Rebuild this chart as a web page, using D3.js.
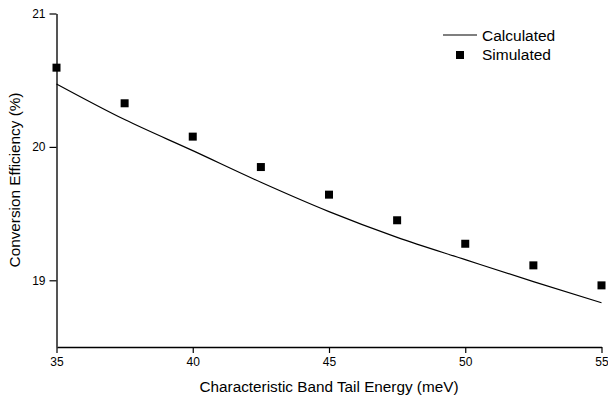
<!DOCTYPE html>
<html><head><meta charset="utf-8">
<script src="https://cdn.jsdelivr.net/npm/d3@7"></script>
<style>body{margin:0;background:#fff}svg{display:block;font-family:"Liberation Sans",Arial,sans-serif}</style>
</head><body>
<svg id="c" width="608" height="401"></svg>
<script>
const energies = [35, 37.5, 40, 42.5, 45, 47.5, 50, 52.5, 55];
const calculated = [20.472, 20.205, 19.972, 19.735, 19.515, 19.322, 19.155, 18.99, 18.832];
const simulated = [20.594, 20.327, 20.077, 19.849, 19.642, 19.450, 19.274, 19.112, 18.962];
const xTicks = [35, 40, 45, 50, 55];
const yTicks = [19, 20, 21];

const svg = d3.select("#c");
const x = d3.scaleLinear().domain([35, 55]).range([56.5, 601.5]);
const y = d3.scaleLinear().domain([18.5, 21]).range([347, 13.5]);

const xa = svg.append("g").attr("transform", "translate(0,347)")
  .call(d3.axisBottom(x).tickValues(xTicks).tickFormat(d3.format("d")).tickSize(6).tickPadding(4).tickSizeOuter(0));
const ya = svg.append("g").attr("transform", "translate(56.5,0)")
  .call(d3.axisLeft(y).tickValues(yTicks).tickFormat(d3.format("d")).tickSize(7).tickPadding(4).tickSizeOuter(0));
[xa, ya].forEach(g => {
  g.selectAll("text").attr("font-size", 12).attr("font-family", "Liberation Sans, Arial, sans-serif").attr("fill", "#000");
  g.selectAll("line").attr("stroke", "#000").attr("stroke-width", 1.2);
});
xa.select(".domain").attr("stroke", "#000").attr("stroke-width", 1.5);
ya.select(".domain").attr("stroke", "#555").attr("stroke-width", 2);

const line = d3.line().x((d, i) => x(energies[i])).y(d => y(d)).curve(d3.curveMonotoneX);
svg.append("path").datum(calculated).attr("d", line)
  .attr("fill", "none").attr("stroke", "#000").attr("stroke-width", 1.2);

const s = 8;
svg.append("g").selectAll("rect").data(simulated).join("rect")
  .attr("x", (d, i) => x(energies[i]) - s / 2).attr("y", d => y(d) - s / 2)
  .attr("width", s).attr("height", s).attr("fill", "#000");

// legend
const lg = svg.append("g");
lg.append("line").attr("x1", 443).attr("x2", 477).attr("y1", 35).attr("y2", 35).attr("stroke", "#000").attr("stroke-width", 1.2);
lg.append("text").attr("x", 482).attr("y", 40.5).attr("font-size", 15.5).text("Calculated");
lg.append("rect").attr("x", 456).attr("y", 51).attr("width", s).attr("height", s).attr("fill", "#000");
lg.append("text").attr("x", 482).attr("y", 60).attr("font-size", 15.5).text("Simulated");

svg.append("text").attr("x", 329).attr("y", 392).attr("text-anchor", "middle").attr("font-size", 15.3)
  .text("Characteristic Band Tail Energy (meV)");
svg.append("text").attr("transform", "translate(20,180) rotate(-90)").attr("text-anchor", "middle").attr("font-size", 15.3)
  .text("Conversion Efficiency (%)");
</script>
</body></html>
